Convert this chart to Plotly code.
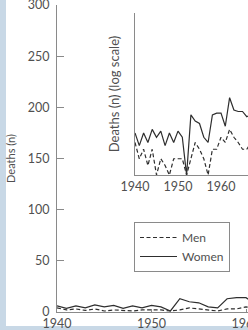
import plotly.graph_objects as go

years = list(range(1940, 1968))
women = [6, 3.5, 6, 4, 7, 5, 6.5, 3.5, 6, 4, 6.5, 5, 1, 13, 10, 9, 5, 4, 13, 14, 14, 8, 27, 16, 15, 15, 12, 13]
men = [4, 2, 3, 1.5, 3, 1, 2, 1.5, 1, 2, 2, 2, 1, 2, 4, 3, 2, 1, 3, 3, 5, 4, 7, 5, 4, 3, 3, 4]

main_yticks = [0, 50, 100, 150, 200, 250, 300]
x_ticks = [1940, 1950, 1960]

W, H = 248, 330
L, R, T, B = 57, 0, 5, 18
pw, ph = W - L - R, H - T - B

def px(x):
    return (x - L) / pw

def py(y):
    return (H - B - y) / ph

FONT = "Lato"
TXT = "#505050"
AX = "#8a8a8a"
LINE = "#2e2e2e"
FS = 12.5

fig = go.Figure()
for yref, xref in [("y", "x"), ("y2", "x2")]:
    fig.add_trace(go.Scatter(x=years, y=men, mode="lines", name="Men",
                             line=dict(color=LINE, width=1.2, dash="4px,2.5px"),
                             xaxis=xref, yaxis=yref, showlegend=(xref == "x")))
    fig.add_trace(go.Scatter(x=years, y=women, mode="lines", name="Women",
                             line=dict(color=LINE, width=1.2),
                             xaxis=xref, yaxis=yref, showlegend=(xref == "x")))

fig.update_layout(
    width=W, height=H,
    margin=dict(l=L, r=R, t=T, b=B, pad=0, autoexpand=False),
    paper_bgcolor="#c8d8e6",
    plot_bgcolor="rgba(0,0,0,0)",
    font=dict(family=FONT, size=FS, color=TXT),
    shapes=[dict(type="rect", xref="paper", yref="paper", layer="below",
                 x0=px(6), x1=px(W + 5), y0=py(326), y1=py(-5),
                 fillcolor="white", line=dict(width=0))],
    xaxis=dict(range=[1940, 1940 + (W - L) / 9.45], tickvals=x_ticks,
               showline=True, linecolor=AX, linewidth=1, ticks="inside",
               ticklen=3, tickcolor=AX, showgrid=False, zeroline=False,
               ticklabeloverflow="allow", automargin=False,
               tickfont=dict(size=FS, color=TXT)),
    yaxis=dict(range=[0, 300], tickvals=main_yticks, showline=True,
               linecolor=AX, linewidth=1, ticks="inside", ticklen=7,
               tickcolor=AX, showgrid=False, zeroline=False,
               ticklabelstandoff=4, ticklabeloverflow="allow", automargin=False,
               title=dict(text="Deaths (n)", font=dict(size=11, color=TXT),
                          standoff=9),
               tickfont=dict(size=FS, color=TXT)),
    xaxis2=dict(domain=[px(135), 1], anchor="y2",
                range=[1940, 1940 + (W - 135) / 4.3], tickvals=x_ticks,
                showline=True, linecolor=AX, linewidth=1, ticks="",
                showgrid=False, zeroline=False, ticklabeloverflow="allow",
                automargin=False,
                tickfont=dict(size=FS, color=TXT)),
    yaxis2=dict(domain=[py(175), py(13)], anchor="x2", type="log",
                range=[0, 3], tickvals=[1000], ticks="inside", ticklen=7,
                tickcolor=AX, showticklabels=False, showline=True,
                linecolor=AX, linewidth=1, showgrid=False, zeroline=False,
                automargin=False,
                title=dict(text="Deaths (n) (log scale)",
                           font=dict(size=13, color=TXT), standoff=11)),
    legend=dict(x=px(134), y=py(222), xanchor="left", yanchor="top",
                bgcolor="white", bordercolor=AX, borderwidth=1,
                font=dict(size=12, color=TXT), itemwidth=37,
                tracegroupgap=0),
    showlegend=True,
)

fig.write_html("out.html", config={"displayModeBar": False},
               post_script="document.body.style.margin='0';document.body.style.padding='0';")
